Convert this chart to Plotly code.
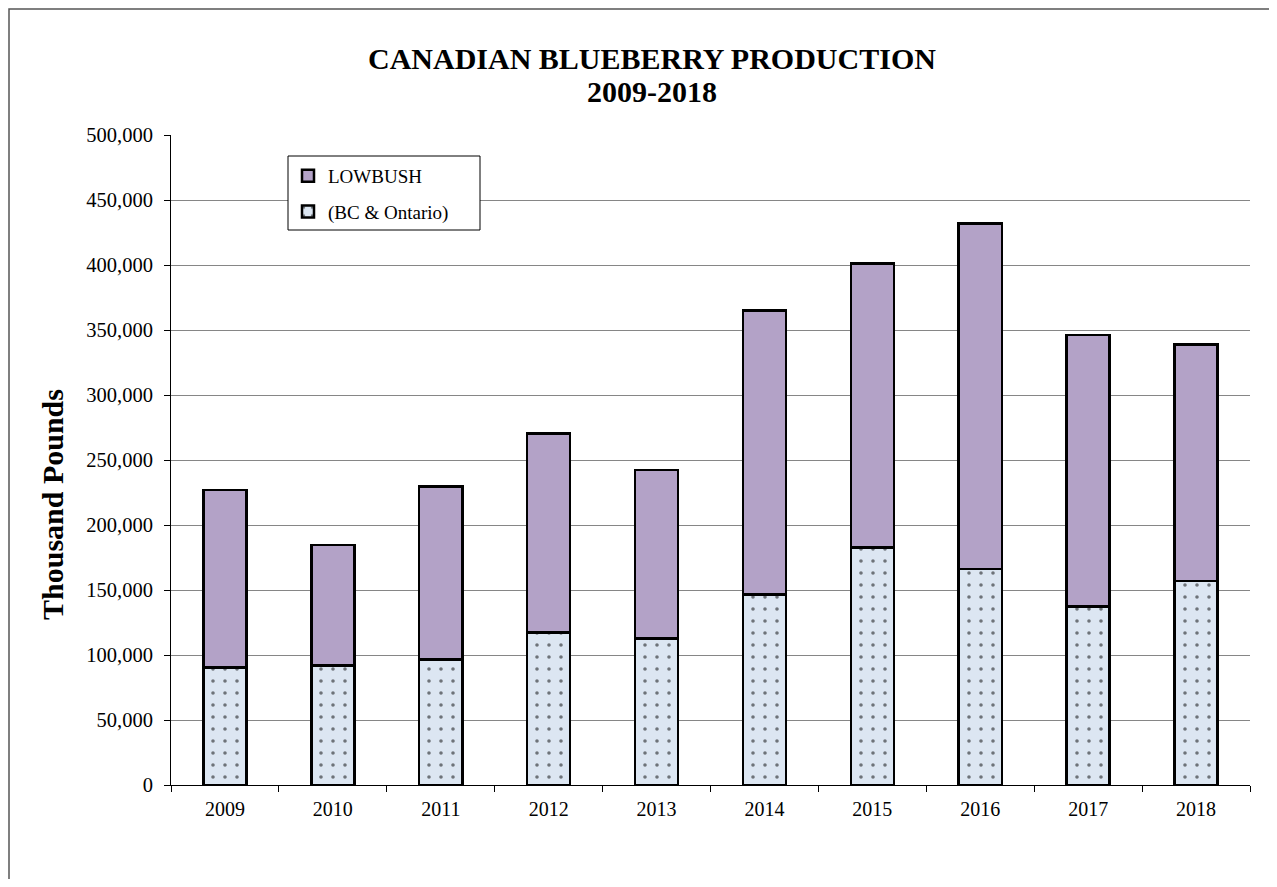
import plotly.graph_objects as go

years = ["2009", "2010", "2011", "2012", "2013", "2014", "2015", "2016", "2017", "2018"]
totals = [226900, 184600, 229500, 270500, 242300, 364900, 401300, 432100, 346200, 338700]
highbush = [90500, 91800, 96700, 117400, 112800, 146700, 182600, 166200, 137200, 156900]
lowbush = [t - h for t, h in zip(totals, highbush)]
y_ticks = [0, 50000, 100000, 150000, 200000, 250000, 300000, 350000, 400000, 450000, 500000]
y_ticklabels = ["0", "50,000", "100,000", "150,000", "200,000", "250,000", "300,000",
                "350,000", "400,000", "450,000", "500,000"]

OFF = 8  # page body margin
W, H = 1261, 871
L, R, T, B = 163, 19, 127, 94
PW, PH = W - L - R, H - T - B


def px_x(page_x):
    return (page_x - OFF - L) / PW


def px_y(page_y):
    return 1 - (page_y - OFF - T) / PH


FONT = "Liberation Serif, Times New Roman, serif"

fig = go.Figure()
fig.add_trace(go.Bar(
    x=years, y=highbush, name="(BC & Ontario)", legendgroup="bc", legendrank=2,
    marker=dict(color="#dce6f2", line=dict(color="black", width=2.5),
                pattern=dict(shape=".", fgcolor="black", bgcolor="#dce6f2", size=12, solidity=0.07)),
))
fig.add_trace(go.Bar(
    x=years, y=lowbush, name="LOWBUSH", legendgroup="low", legendrank=1,
    marker=dict(color="#b3a2c7", line=dict(color="black", width=2.5)),
))

fig.update_layout(
    width=W, height=H,
    margin=dict(l=L, r=R, t=T, b=B, pad=0),
    barmode="stack", bargap=0.6,
    plot_bgcolor="white", paper_bgcolor="white",
    font=dict(family=FONT, size=20, color="black"),
    showlegend=True,
    legend=dict(x=px_x(288), y=px_y(157), xanchor="left", yanchor="top",
                borderwidth=0, bgcolor="rgba(0,0,0,0)",
                font=dict(family=FONT, size=19), traceorder="grouped",
                tracegroupgap=8, itemwidth=30),
    xaxis=dict(showline=True, linecolor="black", linewidth=1, ticks="outside",
               tickson="boundaries", ticklen=6, tickcolor="black",
               ticklabelstandoff=6,
               tickfont=dict(family=FONT, size=20), showgrid=False),
    yaxis=dict(range=[0, 500000], tickvals=y_ticks, ticktext=y_ticklabels,
               showline=True, linecolor="black", linewidth=1, ticks="outside",
               ticklen=6, tickcolor="black", showgrid=True, gridcolor="#868686",
               ticklabelstandoff=7,
               gridwidth=1, zeroline=False, tickfont=dict(family=FONT, size=20.5)),
    annotations=[
        dict(text="<b>CANADIAN BLUEBERRY PRODUCTION</b>", x=px_x(652), y=px_y(58),
             xref="paper", yref="paper", showarrow=False, xanchor="center", yanchor="middle",
             font=dict(family=FONT, size=30, color="black")),
        dict(text="<b>2009-2018</b>", x=px_x(652), y=px_y(92),
             xref="paper", yref="paper", showarrow=False, xanchor="center", yanchor="middle",
             font=dict(family=FONT, size=30, color="black")),
        dict(text="<b>Thousand Pounds</b>", x=px_x(52), y=px_y(505), xref="paper", yref="paper",
             showarrow=False, textangle=-90, xanchor="center", yanchor="middle",
             font=dict(family=FONT, size=30, color="black")),
    ],
    shapes=[
        dict(type="rect", xref="paper", yref="paper", x0=px_x(9), y0=px_y(9),
             x1=px_x(1320), y1=px_y(940), line=dict(color="#555555", width=1.5),
             fillcolor="rgba(0,0,0,0)", layer="below"),
        dict(type="rect", xref="paper", yref="paper", x0=px_x(288), y0=px_y(156),
             x1=px_x(480), y1=px_y(230), line=dict(color="black", width=1),
             fillcolor="white", layer="above"),
    ],
)

fig.write_html("out.html")
